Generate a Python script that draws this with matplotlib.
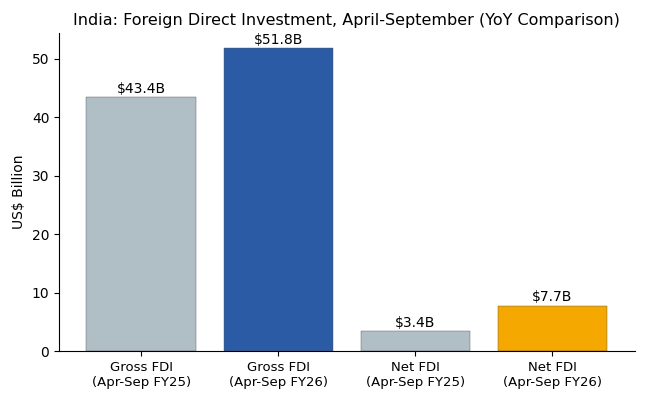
import matplotlib.pyplot as plt

categories = ["Gross FDI\n(Apr-Sep FY25)", "Gross FDI\n(Apr-Sep FY26)",
              "Net FDI\n(Apr-Sep FY25)", "Net FDI\n(Apr-Sep FY26)"]
values = [43.4, 51.8, 3.4, 7.7]
colors = ["#b0bec5", "#2b5ba5", "#b0bec5", "#f5a800"]

fig = plt.figure(figsize=(6.49, 4.05), dpi=100)
ax = fig.add_axes([0.091, 0.133, 0.887, 0.785])

bars = ax.bar(range(len(values)), values, color=colors, width=0.8,
              edgecolor="#555555", linewidth=0.3)
for b, v in zip(bars, values):
    ax.text(b.get_x() + b.get_width() / 2, v + 0.3, f"${v}B",
            ha="center", va="bottom", fontsize=10)

ax.set_xticks(range(len(values)))
ax.set_xticklabels(categories, fontsize=9.5)
ax.set_ylabel("US$ Billion", fontsize=10)
ax.set_ylim(0, 54.4)
ax.set_xlim(-0.6, 3.6)
ax.set_title("India: Foreign Direct Investment, April-September (YoY Comparison)",
             fontsize=11.5)
ax.spines["top"].set_visible(False)
ax.spines["right"].set_visible(False)

fig.savefig("out.png", dpi=100)
